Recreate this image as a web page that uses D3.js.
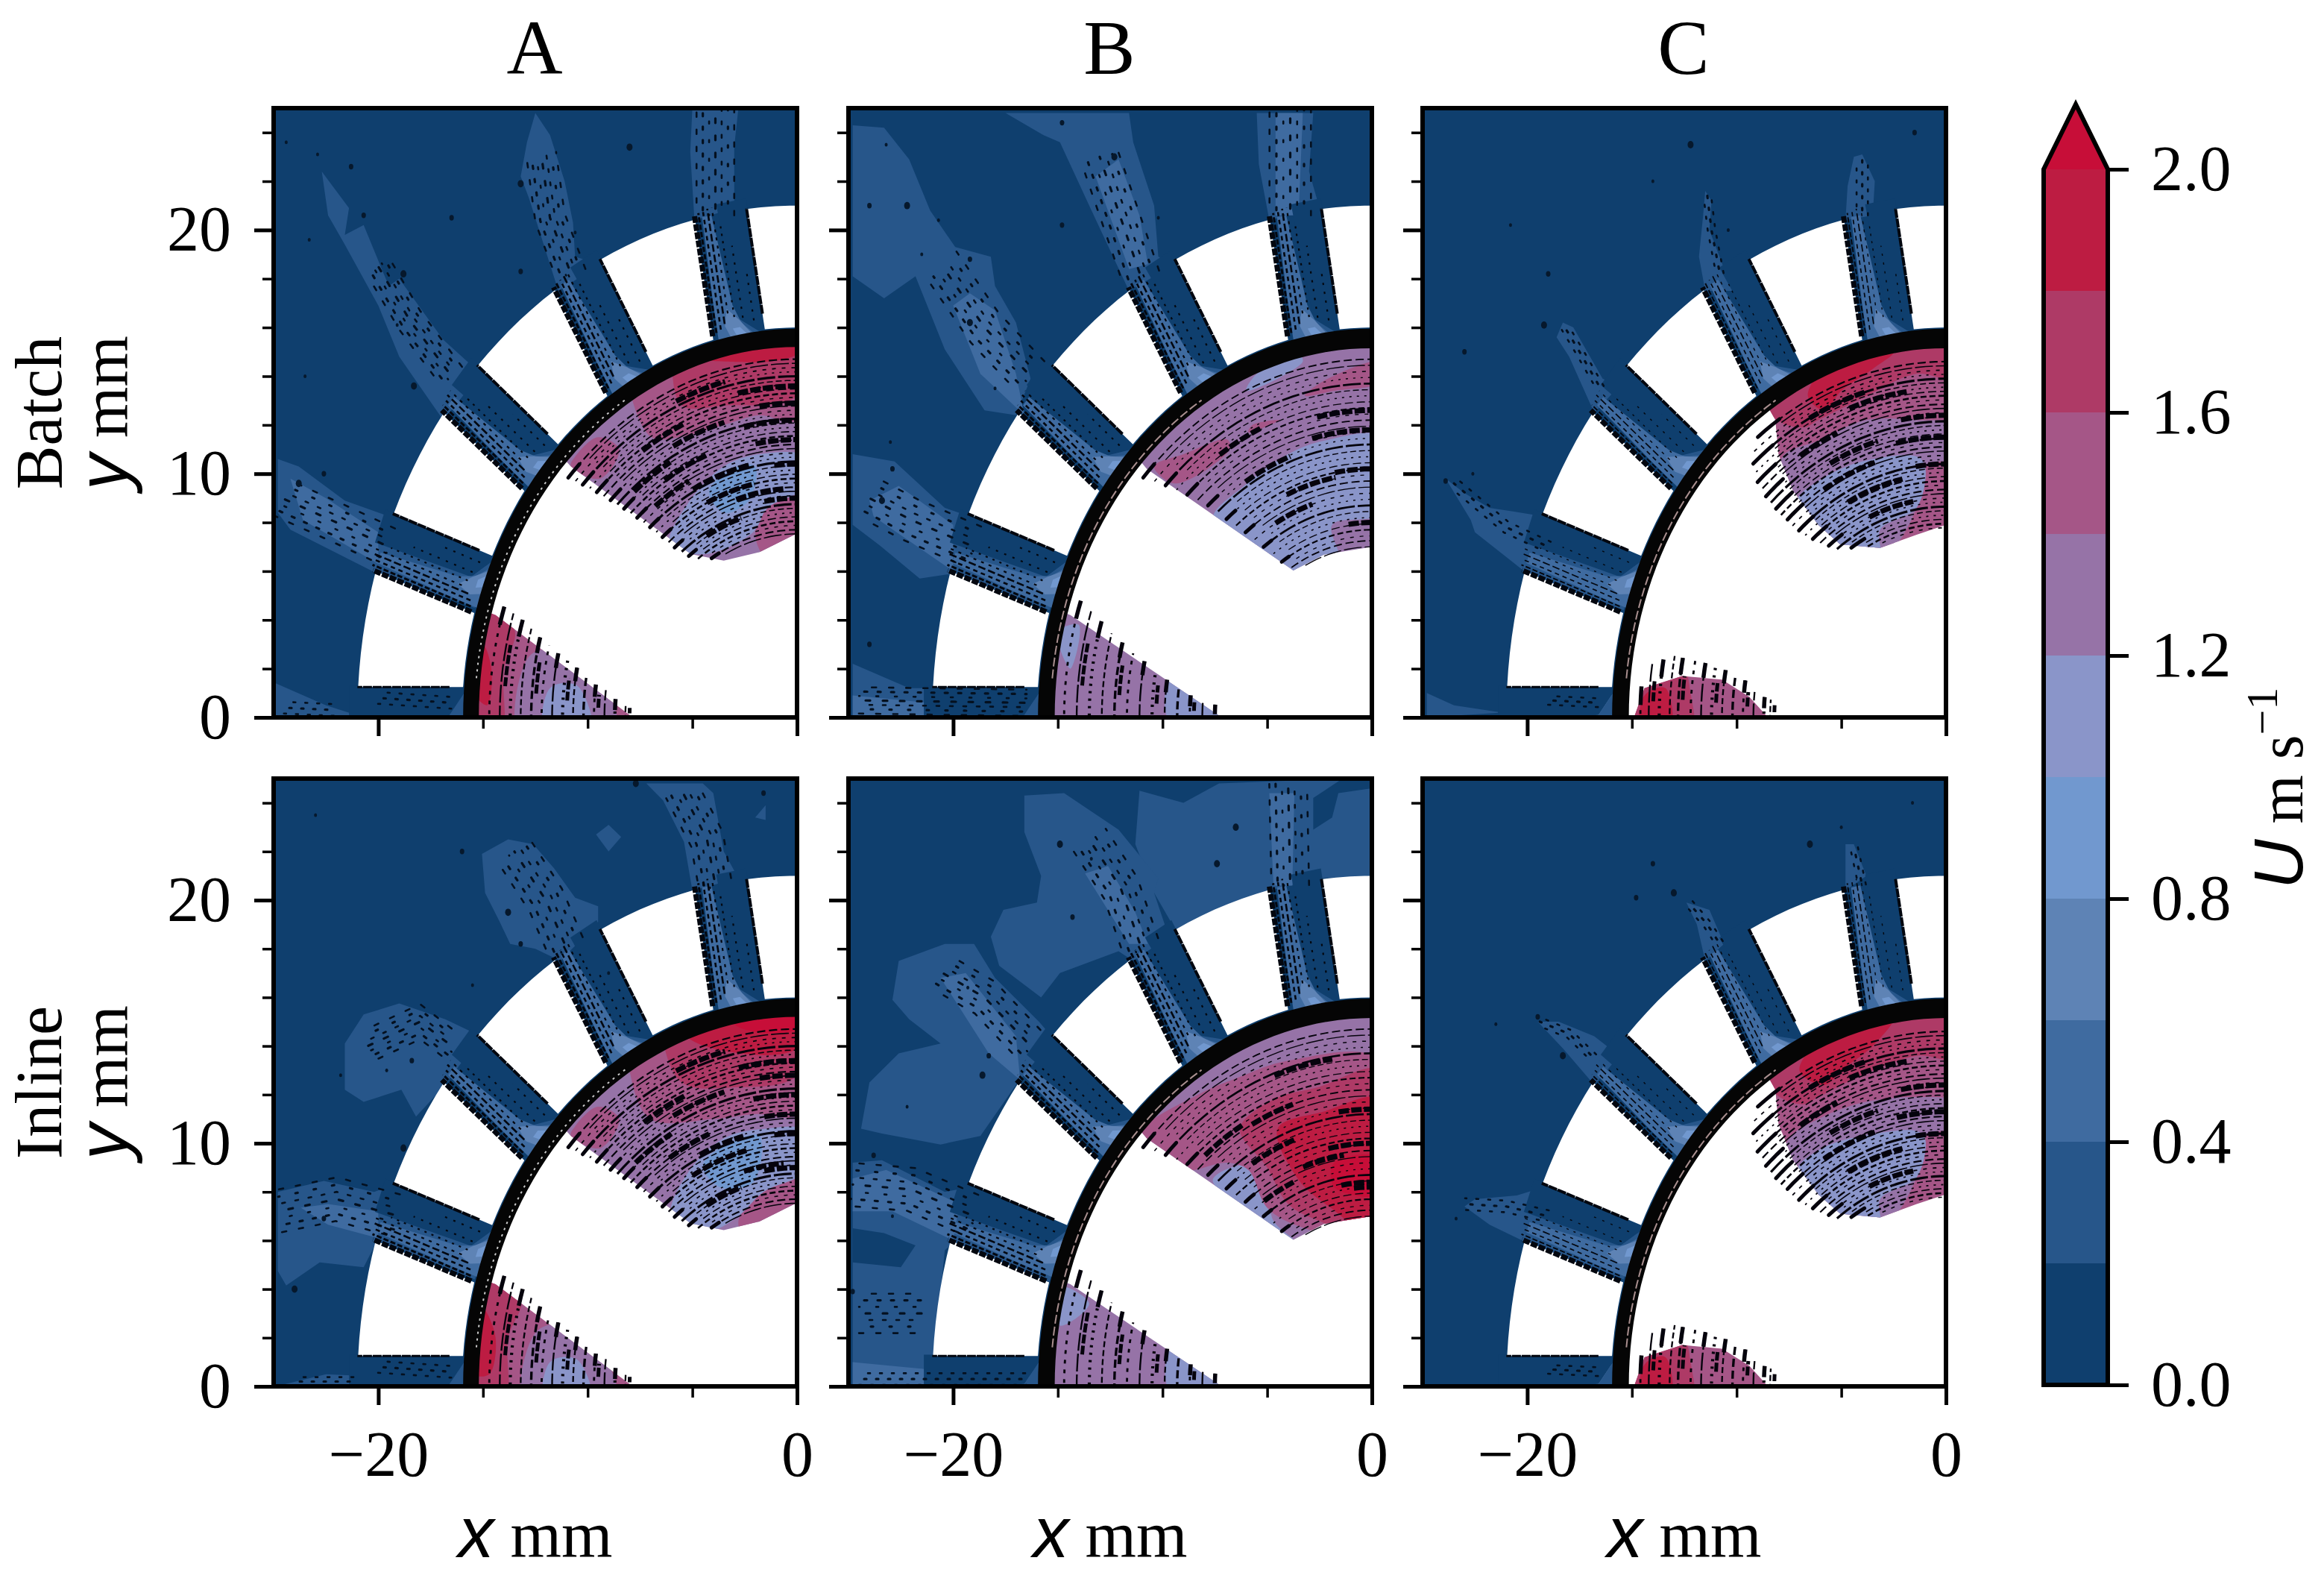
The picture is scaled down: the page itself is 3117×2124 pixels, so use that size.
<!DOCTYPE html>
<html>
<head>
<meta charset="utf-8">
<script src="https://cdnjs.cloudflare.com/ajax/libs/d3/7.8.5/d3.min.js"></script>
<style>
  html, body { margin: 0; background: #fff; }
  text { font-family: "Liberation Serif", serif; fill: #000; }
  .sans { font-family: "Liberation Sans", sans-serif; font-style: italic; }
</style>
</head>
<body>
<div id="target"></div>
<script>
const width = 3117,
  height = 2124;

// contour bands, bottom to top of the colour bar (last one is the "over" colour)
const bandEdges = [0, 0.2, 0.4, 0.6, 0.8, 1.0, 1.2, 1.4, 1.6, 1.8, 2.0];
const bandColors = ["#0f3f6e", "#27568a", "#3f6ba0", "#5e83b5", "#7198cf", "#8a95c9",
  "#9673a7", "#a55687", "#ae3a66", "#bd1c42", "#c70e38"];
const barTicks = [0, 0.4, 0.8, 1.2, 1.6, 2.0];
const barTip = 2.107;

const colNames = ["A", "B", "C"];
const rowNames = ["Batch", "Inline"];
const xMajor = [-20, 0], xMinor = [-15, -10, -5];
const yMajor = [0, 10, 20], yMinor = [2, 4, 6, 8, 12, 14, 16, 18, 22, 24];

// stator geometry in mm / degrees from the -x axis
const slotAngles = [0, 20, 40, 60, 80];
const slotHalf = 1.25, statorIn = 16, statorOut = 21;

// [level, [r, s]...] shading inside a slot, s is the offset across it
const slotPatches = [
  [0, [[16.6, 0.1], [21.4, -0.15], [21.4, 1.3], [15.9, 1.3], [15.9, 1.0]]],
  [1, [[15.9, -0.2], [16.6, 0.1], [15.9, 1.0]]],
  [2, [[15.9, -1.0], [17.4, -1.0], [21, -0.9], [21, -0.45], [17.2, -0.1], [16.4, 0.2], [15.9, 0.7]]],
  [3, [[15.9, -0.4], [16.4, -0.6], [17.1, -0.4], [16.5, 0.15], [15.9, 0.6]]],
  [4, [[15.9, -0.1], [16.25, -0.25], [16.25, 0.1], [15.9, 0.4]]]
];
// [s, r0, r1, width, dash]
const slotStreaks = [
  [-1.25, 16.1, 21.1, 7, "9 2"],
  [-1.05, 16.2, 21.2, 3, "7 3"],
  [-0.82, 16.3, 21.2, 2.6, "6 5"],
  [-0.6, 16.5, 21.3, 2.6, "10 4"],
  [-0.38, 16.9, 21.3, 2.2, "4 7"],
  [-0.1, 16.7, 20.6, 2.2, "3 7"],
  [0.3, 16.6, 19.6, 2.2, "3 9"],
  [0.8, 16.4, 18.4, 2.2, "3 9"],
  [1.25, 16.6, 21, 4, "12 1"]
];

// far field contours [level, points], traced per panel
const contoursA1 = [
  [1, [[-22.7, 22.4], [-22.4, 20.6], [-21.6, 19.4], [-20, 16.9], [-19, 14.8], [-16.9, 12.2], [-15.1, 14.1], [-16.9, 15.5], [-19, 18], [-19.5, 17.7], [-20.7, 20.2], [-21.6, 19.8], [-21.4, 20.9]]],
  [1, [[-12.5, 24.8], [-11.8, 23.9], [-11.1, 22], [-10.7, 20.3], [-10.6, 18.9], [-9.4, 18.6], [-11.4, 17.5], [-12.8, 21.3], [-13.2, 22.2], [-12.9, 23.6]]],
  [1, [[-5, 25], [-2.8, 25], [-3, 23.4], [-3, 20.9], [-4.9, 20.4], [-5.1, 23.2]]],
  [1, [[-24.8, 10.6], [-23.8, 10.3], [-21.6, 8.9], [-19, 8.1], [-14.7, 6.7], [-15.4, 4.5], [-20.05, 5.9], [-24.2, 7.7], [-24.8, 8.4]]],
  [2, [[-24.2, 9.8], [-22.5, 9], [-20, 7.6], [-20, 6.3], [-23.6, 8.1]]],
  [1, [[-24.9, 1.4], [-22.5, 0.5], [-20.7, 0], [-24.9, 0]]]
];
const contoursB1 = [
  [1, [[-24.8, 24.3], [-23.3, 24.2], [-22.1, 22.9], [-21.1, 20.8], [-19.9, 19.3], [-18.2, 18.9], [-18, 17.7], [-17, 16.2], [-16.3, 13.9], [-17, 12.4], [-18.5, 12.6], [-20.4, 15.1], [-21.8, 18.1], [-23.3, 17.2], [-24.8, 18.1]]],
  [2, [[-20, 16.9], [-19.2, 17.4], [-18, 16.7], [-17, 14.1], [-16.6, 12.4], [-18.7, 14.1]]],
  [1, [[-17.5, 24.8], [-11.6, 24.8], [-11.4, 23.6], [-10.4, 21], [-10.2, 18.9], [-9.4, 18.6], [-11.6, 17.5], [-13.5, 21], [-14.9, 23.6], [-15.7, 23.9]]],
  [2, [[-13.2, 22.2], [-12.1, 22.9], [-11.1, 20.6], [-10.7, 18.6], [-11.6, 18.4]]],
  [1, [[-5.5, 24.8], [-2.8, 24.8], [-3, 22.4], [-2.5, 20.9], [-4.9, 20.4], [-5.4, 22.7]]],
  [2, [[-4.6, 24.8], [-3.3, 24.8], [-3.5, 20.6], [-4.6, 20.6]]],
  [1, [[-24.8, 10.8], [-22.8, 10.5], [-20.4, 8.6], [-19.2, 8.25], [-14.5, 6.7], [-15.4, 4.4], [-20, 5.9], [-21.6, 5.7], [-23.5, 7.05], [-24.8, 7.9]]],
  [2, [[-24, 8.9], [-22.6, 9.5], [-20, 7.9], [-20, 6], [-23.8, 8.25]]],
  [1, [[-24.8, 2.2], [-22.1, 1.2], [-16.3, 1.2], [-15.9, 0], [-24.8, 0]]],
  [2, [[-24.8, 0.9], [-20, 0.5], [-20, 0], [-24.8, 0]]]
];
const contoursC1 = [
  [1, [[-23.9, 9.8], [-23, 9.2], [-21.8, 8.6], [-19.2, 8.25], [-14.6, 6.7], [-15.4, 4.4], [-20, 5.9], [-22.5, 7.6], [-22.7, 8.1]]],
  [1, [[-18.3, 16.2], [-17.8, 16], [-16.4, 13.9], [-15.6, 13.6], [-16.8, 12.5], [-18, 14.8], [-18.6, 15.6]]],
  [1, [[-11.5, 21.6], [-11.2, 21.2], [-11.3, 20], [-10.2, 17.5], [-11.5, 17.5], [-11.8, 18.9], [-11.6, 20.6]]],
  [1, [[-4.4, 23], [-4, 23.1], [-3.4, 22], [-3.5, 20.6], [-4.8, 20.4], [-4.7, 21.8]]],
  [1, [[-24.8, 1], [-23.5, 0.5], [-21.2, 0.2], [-24.8, 0]]],
  [3, [[-16.6, 0.9], [-16, 1], [-15.7, 0], [-16.8, 0]]]
];
const contoursA2 = [
  [1, [[-15.05, 21.9], [-13.8, 22.5], [-12.6, 22.3], [-11.6, 21.3], [-10.6, 20.1], [-9.5, 19.75], [-9.5, 19.1], [-11.3, 17.5], [-12.5, 18], [-13.7, 18.2], [-14.2, 19.1], [-14.9, 20.3]]],
  [1, [[-9.6, 22.7], [-9, 23.1], [-8.4, 22.6], [-9, 22]]],
  [1, [[-2, 23.4], [-1.5, 23.9], [-1.5, 23.3]]],
  [1, [[-7.2, 24.8], [-4.5, 24.8], [-4, 24.4], [-3.5, 22], [-2.8, 20.9], [-5, 20.4], [-5.4, 22.4], [-6.4, 24.1]]],
  [1, [[-20.7, 15.3], [-19, 15.75], [-16.8, 15.1], [-15.1, 14.4], [-16.9, 12.3], [-18.2, 11.1], [-18.9, 12.2], [-20.7, 11.7], [-21.6, 12.2], [-21.6, 14.1]]],
  [1, [[-24.8, 8], [-22.6, 8.45], [-20.2, 8], [-19.2, 8.3], [-14.5, 6.65], [-15.4, 4.4], [-20.05, 6], [-20.7, 4.9], [-22.8, 5.1], [-24.4, 4.15], [-24.8, 4.75]]],
  [2, [[-23.7, 7.35], [-22.4, 7.5], [-20, 7.2], [-20, 6.1], [-22.4, 6.65]]],
  [1, [[-24.9, 0], [-22.5, 0.5], [-21.3, 0.45], [-20.4, 0]]]
];
const contoursB2 = [
  [1, [[-11.1, 24.5], [-9, 24], [-7.3, 24.8], [-1.4, 25], [-2.8, 24.2], [-2.8, 22.9], [-1.9, 23.4], [-1.6, 24.4], [0, 24.6], [0, 21], [-2.4, 20.9], [-4.9, 20.4], [-9.4, 18.8], [-10.4, 20.3], [-11.3, 22.3]]],
  [1, [[-16.6, 24.3], [-14.7, 24.4], [-12.1, 22.9], [-10.2, 20.9], [-10.4, 20.3], [-9.7, 18.5], [-11.4, 17.5], [-12.1, 17.9], [-14.9, 17], [-15.8, 16], [-17.8, 17.3], [-18.2, 18.5], [-17.6, 19.6], [-16, 19.9], [-15.8, 21], [-16.6, 22.8]]],
  [1, [[-22.6, 17.5], [-20.4, 18.2], [-19, 18.2], [-18, 16.8], [-15.9, 15], [-15.2, 14.3], [-17, 12.4], [-18.7, 10.3], [-20.6, 9.95], [-23.4, 10.4], [-24.4, 10.6], [-24, 12.5], [-22.6, 13.7], [-20.6, 14.1], [-22.1, 15.1], [-22.9, 15.9]]],
  [2, [[-20.6, 16.8], [-19.4, 17], [-17, 14.4], [-16.8, 12.6], [-18.3, 13.7]]],
  [2, [[-13.7, 21.1], [-12.6, 21.4], [-11.3, 19.5], [-10.7, 18.2], [-11.6, 18.2]]],
  [1, [[-24.8, 9.2], [-23.4, 9.3], [-20.4, 8], [-19.2, 8.2], [-14.5, 6.65], [-15.4, 4.3], [-20, 5.9], [-20.4, 5.6], [-20.9, 1.3], [-15.9, 1.2], [-15.9, 0], [-24.8, 0]]],
  [0, [[-24.8, 6.5], [-23.3, 6.3], [-21.8, 5.8], [-22.5, 4.9], [-24.8, 5.1]]],
  [2, [[-24.8, 8.55], [-23.2, 8.9], [-19.7, 7.5], [-20, 6], [-22.9, 7.2], [-24.8, 7.2]]],
  [2, [[-4.9, 24.4], [-3.7, 24.4], [-3.8, 20.6], [-4.7, 20.6]]],
  [2, [[-24.8, 1], [-20, 0.6], [-16, 0.4], [-16, 0], [-24.8, 0]]]
];
const contoursC2 = [
  [1, [[-23, 7.4], [-22.5, 7.7], [-20.5, 7.85], [-19.2, 8.2], [-14.6, 6.7], [-15.4, 4.4], [-20, 5.9], [-21.8, 6.65]]],
  [1, [[-19.5, 15], [-18.5, 15], [-16.8, 14.4], [-15.6, 13.6], [-16.8, 12.4], [-18.3, 13.9]]],
  [1, [[-12.4, 19.9], [-11.3, 19.6], [-10.6, 18.2], [-11.5, 17.5], [-11.9, 19]]],
  [1, [[-4.8, 22.3], [-4.4, 22.3], [-3.8, 21], [-4.8, 20.4]]],
  [3, [[-16.6, 0.9], [-16, 1], [-15.7, 0], [-16.8, 0]]]
];

// jet centre lines outside the stator and their half width
const jetsA1 = [[0.9, [[-19.5, 7], [-22, 8], [-24.6, 9]]], [0.7, [[-16.5, 14], [-18.5, 16.3], [-20, 18.5]]], [0.8, [[-10.8, 18.2], [-11.8, 20.5], [-12.2, 23]]], [1, [[-3.9, 20.6], [-3.9, 22.8], [-3.9, 25]]], [0.4, [[-24.5, 0.4], [-22, 0.3]]], [0.4, [[-20, 0.8], [-16.5, 0.6]]]];
const jetsB1 = [[1, [[-19, 7], [-22, 8.1], [-24, 9]]], [1, [[-16.3, 14], [-18.5, 16], [-20.5, 18.5]]], [1, [[-11, 18], [-12, 20.5], [-13, 23]]], [1.1, [[-3.9, 20.6], [-3.9, 25]]], [0.6, [[-24.5, 0.7], [-16.5, 0.6]]]];
const jetsC1 = [[0.4, [[-19, 7], [-21, 7.8], [-23.5, 9.6]]], [0.3, [[-16.5, 13.5], [-17.5, 15], [-18.2, 16]]], [0.3, [[-10.8, 18.2], [-11.2, 20], [-11.4, 21.4]]], [0.45, [[-4, 20.6], [-4, 22.9]]], [0.3, [[-19, 0.7], [-16.5, 0.6]]]];
const jetsA2 = [[1, [[-19, 7], [-22, 7.7], [-24.8, 7.2]]], [0.8, [[-16.5, 14], [-18, 15], [-20.5, 14]]], [1, [[-11, 18], [-12, 20], [-13.5, 22]]], [0.9, [[-3.9, 20.6], [-4.3, 22.5], [-5.5, 24.5]]], [0.3, [[-24, 0.2], [-21, 0.2]]], [0.4, [[-20, 0.8], [-16.5, 0.6]]]];
const jetsB2 = [[1, [[-19, 7], [-22, 8.1], [-24.8, 8.3]]], [0.9, [[-16.3, 14], [-18.5, 16], [-20.5, 17]]], [1, [[-11, 18], [-12, 20.5], [-13.5, 22.5]]], [1, [[-3.9, 20.6], [-4, 24.8]]], [0.4, [[-24.5, 0.3], [-16.5, 0.3]]], [0.9, [[-24.5, 3], [-21.5, 3]]]];
const jetsC2 = [[0.4, [[-19, 7], [-21, 7.4], [-23, 7.5]]], [0.3, [[-16.8, 13.5], [-18, 14.5], [-19.4, 15]]], [0.3, [[-10.8, 18.2], [-11.4, 19], [-12.3, 19.9]]], [0.3, [[-4, 20.6], [-4.4, 22.2]]], [0.3, [[-19, 0.7], [-16.5, 0.6]]]];

// isolated specks in the far field
const specksA1 = [[-22.9, 23.1], [-20.7, 20.6], [-18.8, 18.2], [-19.1, 16.1], [-22.6, 10], [-23.8, 9.6], [-23.3, 19.6], [-21.3, 22.6], [-13.2, 21.9], [-10.6, 19.9], [-13.2, 18.3], [-18.3, 13.6], [-24.4, 23.6], [-16.5, 20.5], [-8, 23.4], [-23.5, 14], [-20, 3.5]];
const specksB1 = [[-23.2, 23.5], [-24, 21], [-22.2, 21], [-20.7, 20.4], [-19.2, 18.8], [-19.2, 16.2], [-18, 13.5], [-22.9, 10.2], [-23.4, 8.9], [-23, 11.3], [-14.8, 24.4], [-12.3, 23], [-10.2, 20.5], [-14.8, 20.2], [-8.5, 18.2], [-21.5, 19], [-24, 3]];
const specksC1 = [[-20.8, 20.2], [-19, 18.2], [-19.2, 16.1], [-22.6, 10], [-23.9, 9.7], [-12.2, 23.5], [-10.4, 20], [-1.5, 24], [-9, 18.4], [-14, 22], [-23, 15]];
const specksA2 = [[-23, 23.5], [-18.4, 13.4], [-18.8, 9.8], [-19.6, 13], [-22.6, 6.9], [-24, 4], [-21.8, 12.8], [-13.2, 18.2], [-13.8, 19.5], [-9, 17], [-1.6, 24.4], [-7.7, 24.8], [-15.5, 16.5], [-16, 22]];
const specksB2 = [[-19.3, 16.4], [-18.3, 13.6], [-18.6, 12.8], [-22.9, 7], [-24.8, 3.9], [-14.9, 22.3], [-13.4, 21.7], [-14.3, 19.3], [-7.4, 21.5], [-22.2, 11.5], [-23.8, 9.5], [-6.5, 23]];
const specksC2 = [[-21.5, 14.9], [-19.5, 15.2], [-18.3, 13.6], [-23.4, 6.9], [-14.8, 20.1], [-13, 20.3], [-1.6, 24], [-14, 21.5], [-6.5, 22.3], [-5, 23]];

// rotor passage outlines: blade side points, then the angle where it meets the ring
const upperEdgeA = [[-10.8, 10.3], [-5.07, 6.7], [-3.5, 6.43], [-1.8, 6.78], [0, 7.55]];
const upperEdgeB = [[-10.75, 10.2], [-3.75, 6.03], [-2.3, 6.68], [0, 7]];
const upperEdgeC = [[-8.15, 12.2], [-8, 10.8], [-7.3, 9.3], [-6.1, 7.9], [-5.05, 7.1], [-3.15, 6.95], [-1.4, 7.5], [0, 7.9]];
const upperAngles = { A: 43.6, B: 43.6, C: 56.3 };
const lowerEdgeA = [[-7.84, 0], [-14.4, 4.2]];
const lowerEdgeB = [[-7.17, 0], [-14.4, 4.2]];
const lowerEdgeC = [[-8.5, 0], [-9.4, 0.85], [-10.7, 1.55], [-12.6, 1.7], [-14.4, 1.2], [-14.9, 0]];
const lowerAngles = { A: 16.3, B: 16.3, C: 0 };

// rotor contours, base level first
const rotorA1 = [
  [6, [[-16, 0], [0, 0], [0, 17], [-16, 17]]],
  [7, [[-8, 13.5], [-6.95, 11.5], [-5.6, 11.5], [-3.5, 12], [-1.8, 12.4], [0, 12.2], [0.5, 16], [-8, 16]]],
  [8, [[-6, 14.5], [-5.5, 12.8], [-3.5, 12.8], [0, 13.2], [0.5, 16], [-6, 16]]],
  [9, [[-4.5, 14.8], [-3.4, 14.6], [0, 14.9], [0.5, 16], [-4.5, 16]]],
  [7, [[-10.8, 10.3], [-9.4, 9.8], [-8.5, 11], [-9.5, 11.5], [-10.6, 10.7]]],
  [7, [[0.5, 9.6], [-1.4, 8.6], [-2, 7.5], [-1, 6], [0.5, 6]]],
  [5, [[-6.1, 7.05], [-5.2, 8.8], [-3.5, 10.3], [-1.8, 10.8], [0.5, 10.7], [0.5, 9.5], [-1.4, 8.6], [-2.1, 7.6], [-4.4, 6.7]]],
  [4, [[-4.2, 9.3], [-2.8, 10.3], [-2, 10.3], [-2.3, 8.9], [-3.5, 8.4]]]
];
const lowerA1 = [
  [7, [[-16, -1], [-6, -1], [-6, 6], [-16, 6]]],
  [6, [[-13.2, -1], [-12.8, 2.5], [-11.5, 2.8], [-9.8, 2.2], [-8.6, -1]]],
  [5, [[-12, -1], [-11.8, 1.2], [-10.5, 1.3], [-9.8, -1]]],
  [8, [[-16, -1], [-16, 5], [-13.5, 3.6], [-14, 2], [-14.2, -1]]],
  [9, [[-15.4, 1], [-15, 3], [-14.6, 2], [-14.8, 0.5]]]
];
const rotorA2 = [
  [6, [[-16, 0], [0, 0], [0, 17], [-16, 17]]],
  [7, [[-8, 13], [-7, 11], [-4, 11], [-2, 11.2], [0, 11.2], [0.5, 16], [-8, 16]]],
  [8, [[-6.5, 14.6], [-5.5, 12.5], [-3, 12.3], [0, 12.8], [0.5, 16], [-6.5, 16]]],
  [9, [[-5.5, 14.6], [-4, 13.9], [0, 13.9], [0.5, 16], [-5.5, 16]]],
  [10, [[-3, 14.9], [0, 14.7], [0.5, 16], [-3, 16]]],
  [7, [[-10.8, 10.3], [-9.4, 9.8], [-8.5, 11], [-9.5, 11.5], [-10.6, 10.7]]],
  [7, [[0.5, 8.9], [-1.6, 8], [-2.8, 6.8], [-2, 5.5], [0.5, 5.5]]],
  [5, [[-6, 7], [-5.2, 8.8], [-3.5, 10.2], [-1.5, 10.6], [0.5, 10.5], [0.5, 8.9], [-1.6, 8], [-2.8, 7], [-4.2, 6.4]]],
  [4, [[-4.5, 9.1], [-3, 10.1], [-1.8, 10.3], [-2.1, 8.4], [-3.7, 8.2]]]
];
const lowerA2 = [
  [7, [[-16, -1], [-6, -1], [-6, 6], [-16, 6]]],
  [6, [[-13, -1], [-12.5, 2.2], [-11.2, 2.6], [-9.8, 2.1], [-8.6, -1]]],
  [5, [[-12, -1], [-11.8, 1], [-10.5, 1.1], [-9.8, -1]]],
  [8, [[-16, -1], [-16, 5], [-13.2, 3.6], [-13.8, 2], [-14, -1]]],
  [9, [[-15.4, 0.5], [-15, 3.2], [-14.4, 2], [-14.7, 0.5]]]
];
const rotorB1 = [
  [6, [[-16, 0], [0, 0], [0, 17], [-16, 17]]],
  [5, [[-7.6, 8.1], [-6.1, 9.5], [-4, 10.8], [-2.3, 11.35], [0.5, 11.5], [0.5, 8.4], [-1.9, 7.9], [-1.6, 6.4], [-3.75, 5.7]]],
  [5, [[-5.5, 14.1], [-3.5, 14.9], [-3.3, 14.6], [-6, 13.4]]],
  [7, [[-10.4, 10.3], [-9.4, 9.6], [-6.8, 11], [-6.9, 11.4], [-9, 10.8]]],
  [7, [[-5.9, 11.7], [-4.4, 12.2], [-5.7, 12]]],
  [7, [[-3.2, 13.2], [-2.1, 13.9], [0.5, 14.6], [0.5, 13.8], [-1.8, 13.4]]]
];
const lowerB1 = [
  [6, [[-16, -1], [-6, -1], [-6, 6], [-16, 6]]],
  [5, [[-9.5, 2], [-7.1, -0.1], [-9.7, -0.1]]],
  [5, [[-15, 3.5], [-14, 3.8], [-14.4, 2]]]
];
const rotorB2 = [
  [6, [[-16, 0], [0, 0], [0, 17], [-16, 17]]],
  [5, [[-7.6, 8.5], [-5.9, 9.1], [-5, 8], [-4.7, 6.8], [-3.75, 6.05], [-6.1, 7.3]]],
  [7, [[-8.3, 12], [-6.4, 12.7], [-4, 13.4], [0.5, 13.4], [0.5, 6], [-3.2, 6.5], [-5, 7.35], [-5.9, 8.9], [-6.9, 9.2], [-9.2, 8.9], [-11, 10.4]]],
  [8, [[-6.3, 10.6], [-4.7, 11.8], [-2.6, 12.3], [0.5, 13], [0.5, 6], [-2.5, 6.8], [-4, 7.5], [-5, 9]]],
  [9, [[-4.5, 10.6], [-2.3, 11.3], [0.5, 11.8], [0.5, 6], [-1.9, 7.3], [-3.5, 8.5]]],
  [10, [[-1.8, 9.2], [0.5, 9.4], [0.5, 7.9], [-1.8, 8.2]]]
];
const lowerB2 = [
  [6, [[-16, -1], [-6, -1], [-6, 6], [-16, 6]]],
  [5, [[-9.5, 1.8], [-7.1, -0.1], [-9.7, -0.1]]],
  [5, [[-14.9, 4.1], [-13.5, 3.4], [-14.9, 2.5]]]
];
const rotorC1 = [
  [7, [[-16, 0], [0.5, 0], [0.5, 17], [-16, 17]]],
  [6, [[-7.8, 10.7], [-6.1, 11.35], [-3.85, 12.2], [-1.4, 12.2], [0.5, 12], [0.5, 10.7], [-1, 10.3], [-1.4, 8.6], [-3, 6.6], [-5.05, 6.9], [-6.5, 7.6], [-7.8, 9]]],
  [5, [[-7.1, 8.9], [-5.9, 9.8], [-4, 10.5], [-1.4, 10.7], [-1, 10.3], [-1.4, 8.6], [-3.15, 7.7], [-3.15, 6.5], [-5.05, 6.8], [-6.1, 7.6]]],
  [8, [[-8.3, 12.4], [-6.8, 11.9], [-6.1, 12.2], [-4, 13.1], [-1.4, 14.1], [0.5, 13.9], [0.5, 16], [-8.3, 16]]],
  [9, [[-6.6, 13.2], [-5.8, 12.6], [-5, 13.4], [-3.5, 14.3], [-2.5, 15], [-5, 15]]]
];
const lowerC1 = [
  [7, [[-16, -1], [-7, -1], [-7, 3], [-16, 3]]],
  [8, [[-15.5, -1], [-15.5, 2], [-12.6, 2], [-12.2, 1], [-12.2, -1]]],
  [9, [[-14.5, -1], [-14.4, 0.9], [-13.4, 1.2], [-13.2, -1]]]
];
const rotorC2 = [
  [7, [[-16, 0], [0.5, 0], [0.5, 17], [-16, 17]]],
  [6, [[-7.5, 10.2], [-6.1, 11], [-3.85, 11.7], [-1.4, 11.9], [0.5, 11.7], [0.5, 10.7], [-1, 10.3], [-1.4, 8.6], [-3, 6.6], [-5.05, 6.9], [-6.5, 7.6], [-7.8, 9]]],
  [5, [[-7.1, 8.9], [-5.9, 9.8], [-4, 10.3], [-1.4, 10.5], [-1, 10.2], [-1.4, 8.6], [-3.15, 7.7], [-3.15, 6.5], [-5.05, 6.8], [-6.1, 7.6]]],
  [8, [[-8.3, 12.2], [-6.8, 11.6], [-6.1, 11.9], [-4, 12.8], [-1.4, 13.6], [0.5, 13.5], [0.5, 16], [-8.3, 16]]],
  [9, [[-7, 13], [-5.8, 12.4], [-5, 13], [-3.5, 14], [-2.5, 15.2], [-5, 15]]]
];
const lowerC2 = lowerC1;

// rotor streak rows: [radius, angle where it starts]
const upperRowsA = [[14.7, 42], [14.35, 42.5], [14, 43], [13.65, 43.5], [13.3, 44], [12.95, 44.5], [12.6, 45], [12.25, 45.5], [11.9, 46], [11.55, 46.5], [11.2, 47], [10.85, 47.5], [10.5, 48], [10.15, 48.5], [9.8, 49], [9.45, 49.5], [9.1, 50], [8.75, 51], [8.4, 52], [8.05, 54], [7.7, 58]];
const upperRowsB = [[14.7, 42], [14.2, 43], [13.7, 44], [13.2, 45], [12.7, 46], [12.2, 47], [11.7, 48], [11.2, 49], [10.7, 49.5], [10.2, 50.5], [9.7, 51.5], [9.2, 52.5], [8.7, 53.5], [8.2, 55], [7.7, 56], [7.25, 58]];
const upperRowsC = [[14.6, 52], [14.25, 50], [13.9, 48.5], [13.55, 48], [13.2, 47], [12.85, 47], [12.5, 46.5], [12.15, 46.5], [11.8, 46.5], [11.45, 46.5], [11.1, 47], [10.75, 47], [10.4, 47.5], [10.05, 48], [9.7, 49], [9.35, 50], [9, 51.5], [8.65, 53], [8.3, 57], [7.95, 62]];
// [radius, angle where it ends]
const lowerRowsA = [[14.7, 18], [14.2, 17.5], [13.7, 17], [13.2, 16], [12.7, 15], [12.2, 14], [11.7, 13], [11.2, 12], [10.7, 11], [10.2, 9.5], [9.7, 8], [9.2, 7], [8.7, 5], [8.2, 4]];
const lowerRowsB = [[14.7, 19], [14.1, 18], [13.5, 17], [12.9, 15.5], [12.3, 14.5], [11.7, 13], [11.1, 12], [10.5, 10.5], [9.9, 9], [9.3, 7.5], [8.7, 6], [8.1, 5], [7.5, 4]];
const lowerRowsC = [[14.6, 5], [14.2, 9], [13.7, 10], [13.2, 11], [12.8, 11], [12.2, 11], [11.7, 11], [11.2, 10.5], [10.7, 10.5], [10.2, 10], [9.7, 9], [9.2, 6.5], [8.7, 5.5], [8.4, 5]];
// heavy clumps of arrows [radius, a0, a1]
const clumpsA1 = [[14.2, 66, 76], [13.2, 56, 66], [12.6, 62, 74], [12.1, 50, 60], [11.6, 57, 68], [11, 52, 62], [10.6, 62, 78], [9.8, 64, 78], [9.4, 72, 86], [8.6, 60, 72], [13.6, 78, 90], [12.9, 82, 90], [12.2, 78, 90], [11.4, 80, 90], [9, 80, 90], [10.4, 84, 90]];
const clumpsB1 = [[13, 56, 66], [11.4, 58, 70], [10, 66, 80], [11.8, 76, 90], [10.2, 80, 90], [8, 82, 90], [12.6, 78, 90], [9.2, 60, 72]];
const clumpsC1 = [[13.9, 62, 74], [12.8, 57, 66], [11.8, 62, 74], [11, 58, 72], [10, 62, 78], [9, 66, 80], [11.5, 78, 90], [13.5, 70, 82], [12.4, 80, 90], [10.4, 82, 90]];
const clumpsA2 = [[14.2, 66, 76], [13.1, 56, 66], [12.6, 62, 74], [12, 50, 60], [11.2, 57, 68], [10.6, 64, 76], [10, 60, 76], [9.2, 74, 86], [8.6, 60, 72], [13.4, 78, 90], [12.8, 82, 90], [12, 80, 90], [11.2, 82, 90], [9, 80, 90], [10.4, 84, 90]];
const clumpsB2 = [[13.6, 70, 82], [12.4, 50, 60], [12.2, 62, 72], [10.8, 58, 70], [9.6, 70, 82], [10, 78, 90], [8.4, 80, 90], [8.2, 84, 90], [11.4, 82, 90], [9.2, 56, 66]];
const clumpsC2 = [[13.9, 62, 74], [12.8, 57, 66], [11.8, 62, 74], [11, 58, 72], [10, 62, 78], [9, 66, 80], [11.3, 78, 90], [13.5, 70, 82], [12.4, 80, 90], [10.4, 82, 90]];

const panels = [
  { col: 0, row: 0, contours: contoursA1, jets: jetsA1, specks: specksA1, rotor: rotorA1, lower: lowerA1, clumps: clumpsA1, edge: upperEdgeA, low: lowerEdgeA, rows: upperRowsA, lowRows: lowerRowsA },
  { col: 1, row: 0, contours: contoursB1, jets: jetsB1, specks: specksB1, rotor: rotorB1, lower: lowerB1, clumps: clumpsB1, edge: upperEdgeB, low: lowerEdgeB, rows: upperRowsB, lowRows: lowerRowsB },
  { col: 2, row: 0, contours: contoursC1, jets: jetsC1, specks: specksC1, rotor: rotorC1, lower: lowerC1, clumps: clumpsC1, edge: upperEdgeC, low: lowerEdgeC, rows: upperRowsC, lowRows: lowerRowsC },
  { col: 0, row: 1, contours: contoursA2, jets: jetsA2, specks: specksA2, rotor: rotorA2, lower: lowerA2, clumps: clumpsA2, edge: upperEdgeA, low: lowerEdgeA, rows: upperRowsA, lowRows: lowerRowsA },
  { col: 1, row: 1, contours: contoursB2, jets: jetsB2, specks: specksB2, rotor: rotorB2, lower: lowerB2, clumps: clumpsB2, edge: upperEdgeB, low: lowerEdgeB, rows: upperRowsB, lowRows: lowerRowsB },
  { col: 2, row: 1, contours: contoursC2, jets: jetsC2, specks: specksC2, rotor: rotorC2, lower: lowerC2, clumps: clumpsC2, edge: upperEdgeC, low: lowerEdgeC, rows: upperRowsC, lowRows: lowerRowsC }
];

// layout
const colLeft = [367, 1138, 1908], colRight = [1069, 1840, 2610];
const rowTop = [145, 1044], rowBottom = [962, 1859];
const barLeft = 2741, barRight = 2827, barTop = 227, barBottom = 1857;

const svg = d3.select("#target").append("svg")
  .attr("width", width)
  .attr("height", height)
  .attr("viewBox", `0 0 ${width} ${height}`)
  .style("display", "block");

const rad = (a) => a * Math.PI / 180;
const polar = (r, a) => [-r * Math.cos(rad(a)), r * Math.sin(rad(a))];
const slotPoint = (angle, r, s) => {
  const p = polar(r, angle);
  const n = [Math.sin(rad(angle)), Math.cos(rad(angle))];
  return [p[0] + s * n[0], p[1] + s * n[1]];
};
const arcPoints = (r, a0, a1) => {
  const n = Math.max(2, Math.ceil(Math.abs(a1 - a0) / 2));
  return d3.range(n + 1).map((i) => polar(r, a0 + (a1 - a0) * i / n));
};
const statorBlock = (a0, a1) => {
  // block between two slots, its sides are parallel to the slots
  const lo = Math.asin(slotHalf / statorOut) * 180 / Math.PI;
  const loIn = Math.asin(slotHalf / statorIn) * 180 / Math.PI;
  return [...arcPoints(statorOut, a0 + lo, a1 - lo), ...arcPoints(statorIn, a1 - loIn, a0 + loIn)];
};

const dashes = ["11 5", "5 8", "24 4", "3 7", "8 4"];
const weights = [2.2, 1.8, 3.2, 1.8, 2.6];
const jetShift = [0, 9, 4, 14, 2, 11, 6];
const ink = "#05030c";

panels.forEach((p, idx) => {
  const x = d3.scaleLinear().domain([-25, 0]).range([colLeft[p.col], colRight[p.col]]);
  const y = d3.scaleLinear().domain([0, 25]).range([rowBottom[p.row], rowTop[p.row]]);
  const line = d3.line().x((d) => x(d[0])).y((d) => y(d[1]));
  const closed = d3.line().x((d) => x(d[0])).y((d) => y(d[1])).curve(d3.curveLinearClosed);
  const soft = d3.line().x((d) => x(d[0])).y((d) => y(d[1])).curve(d3.curveCatmullRomClosed.alpha(0.5));

  svg.append("clipPath").attr("id", `frame${idx}`).append("rect")
    .attr("x", x(-25)).attr("y", y(25)).attr("width", x(0) - x(-25)).attr("height", y(0) - y(25));

  const thin = p.col === 2 ? 0.65 : 1;
  const g = svg.append("g").attr("clip-path", `url(#frame${idx})`);

  g.append("rect")
    .attr("x", x(-25)).attr("y", y(25)).attr("width", x(0) - x(-25)).attr("height", y(0) - y(25))
    .attr("fill", bandColors[0]);

  g.selectAll(".contour").data(p.contours).enter().append("path")
    .attr("d", (d) => closed(d[1]))
    .attr("fill", (d) => bandColors[d[0]]);

  // shading inside the slots
  slotAngles.forEach((angle) => {
    slotPatches.forEach((patch) => {
      if (angle === 0 && patch[0] > 1) return;
      g.append("path")
        .attr("d", closed(patch[1].map((q) => slotPoint(angle, q[0], q[1]))))
        .attr("fill", bandColors[patch[0]]);
    });
  });

  // the jets leaving the slots, rows staggered so the arrows do not line up
  p.jets.forEach((jet) => {
    const hw = jet[0];
    const first = jet[1][0], last = jet[1][jet[1].length - 1];
    const len = Math.hypot(last[0] - first[0], last[1] - first[1]);
    const nx = -(last[1] - first[1]) / len, ny = (last[0] - first[0]) / len;
    const rowsAcross = hw < 0.5 ? [-0.6, 0, 0.6] : [-0.9, -0.6, -0.3, 0, 0.3, 0.6, 0.9];
    rowsAcross.forEach((t, i) => {
      const pts = jet[1].map((q) => [q[0] + t * hw * nx, q[1] + t * hw * ny]);
      g.append("path").attr("d", line(pts))
        .attr("fill", "none").attr("stroke", "#04101f")
        .attr("stroke-width", i % 2 ? 3.2 : 2.6)
        .attr("stroke-linecap", "round")
        .attr("stroke-dasharray", hw < 0.5 ? "3 13" : (i % 3 === 0 ? "6 17" : (i % 3 === 1 ? "3 22" : "4 14")))
        .attr("stroke-dashoffset", jetShift[i]);
    });
  });

  g.selectAll(".speck").data(p.specks).enter().append("ellipse")
    .attr("cx", (d) => x(d[0])).attr("cy", (d) => y(d[1]))
    .attr("rx", (d, i) => 2 + (i % 3)).attr("ry", (d, i) => 2.5 + (i % 3) * 1.2)
    .attr("fill", "#06182c");

  // stator teeth
  d3.pairs(slotAngles.concat([100])).forEach((pair) => {
    g.append("path").attr("d", closed(statorBlock(pair[0], pair[1]))).attr("fill", "#fff");
  });

  // streaks along the slot walls
  slotAngles.forEach((angle) => {
    slotStreaks.forEach((st) => {
      const s = st[0];
      if (angle === 0 && s < 1.2) return;
      g.append("path")
        .attr("d", line([slotPoint(angle, st[1], s), slotPoint(angle, st[2], s)]))
        .attr("fill", "none").attr("stroke", "#03070f")
        .attr("stroke-width", angle === 0 ? 3 : st[3] * (Math.abs(s) < 1.2 ? thin : 1))
        .attr("stroke-dasharray", st[4]);
    });
  });

  // white disc under the rotor
  g.append("path").attr("d", closed(arcPoints(15.4, -2, 92).concat([[1, 0]]))).attr("fill", "#fff");

  // rotor passages
  const colName = colNames[p.col];
  const upperShape = p.edge.concat(arcPoints(15.5, 90, upperAngles[colName]));
  const lowerShape = lowerAngles[colName] > 0
    ? p.low.concat(arcPoints(15.5, lowerAngles[colName], 0))
    : p.low;
  svg.append("clipPath").attr("id", `upper${idx}`).append("path").attr("d", closed(upperShape));
  svg.append("clipPath").attr("id", `lower${idx}`).append("path").attr("d", closed(lowerShape));

  g.append("g").attr("clip-path", `url(#upper${idx})`)
    .selectAll("path").data(p.rotor).enter().append("path")
    .attr("d", (d, i) => i === 0 ? closed(d[1]) : soft(d[1]))
    .attr("fill", (d) => bandColors[d[0]]);
  g.append("g").attr("clip-path", `url(#lower${idx})`)
    .selectAll("path").data(p.lower).enter().append("path")
    .attr("d", (d, i) => i === 0 ? closed(d[1]) : soft(d[1]))
    .attr("fill", (d) => bandColors[d[0]]);

  // rotor arrows: dashed rows following the rotation, heavy stubs at the blade edge
  const bladeDim = colName === "B" ? 0.85 : 1;
  const rowStep = colName === "B" ? 0.25 : 0.17;
  const stubLen = colName === "C" ? 5 : 3;
  p.rows.forEach((d, i) => {
    g.append("path").attr("d", line(arcPoints(d[0], d[1], 90)))
      .attr("fill", "none").attr("stroke", ink)
      .attr("stroke-width", weights[i % 5] * bladeDim)
      .attr("stroke-dasharray", dashes[i % 5]);
    g.append("path").attr("d", line(arcPoints(d[0] - rowStep, d[1] + 5, 90)))
      .attr("fill", "none").attr("stroke", ink)
      .attr("stroke-width", 1.6 * bladeDim)
      .attr("stroke-dasharray", dashes[(i + 2) % 5]);
    if (i % 2 === 0) {
      g.append("path").attr("d", line(arcPoints(d[0], d[1], d[1] + stubLen)))
        .attr("fill", "none").attr("stroke", ink)
        .attr("stroke-width", 5)
        .attr("stroke-linecap", "round");
    }
  });
  p.lowRows.forEach((d, i) => {
    g.append("path").attr("d", line(arcPoints(d[0], -1, d[1])))
      .attr("fill", "none").attr("stroke", ink)
      .attr("stroke-width", weights[i % 5] * 1.3)
      .attr("stroke-dasharray", dashes[(i + 1) % 5]);
    if (i % 2 === 0) {
      g.append("path").attr("d", line(arcPoints(d[0], d[1], d[1] - 3)))
        .attr("fill", "none").attr("stroke", ink)
        .attr("stroke-width", 5.5);
    }
    if (i % 3 === 1) {
      g.append("path").attr("d", line(arcPoints(d[0] - 0.2, d[1] * 0.3, d[1] * 0.7)))
        .attr("fill", "none").attr("stroke", ink)
        .attr("stroke-width", 5).attr("stroke-dasharray", "12 3");
    }
  });
  g.selectAll(".clump").data(p.clumps).enter().append("path")
    .attr("d", (d) => line(arcPoints(d[0], d[1], d[2])))
    .attr("fill", "none").attr("stroke", ink)
    .attr("stroke-width", 7).attr("stroke-dasharray", "14 3");

  // the rotor ring
  const ringIn = p.col === 0 ? 15.2 : 15.15;
  g.append("path")
    .attr("d", closed(arcPoints(15.95, -2, 92).concat(arcPoints(ringIn, 92, -2))))
    .attr("fill", "#050505");
  g.append("path").attr("d", line(arcPoints(ringIn + 0.2, 6, 58)))
    .attr("fill", "none")
    .attr("stroke", p.col === 0 ? "#c9c9c9" : "#a98f8f")
    .attr("stroke-width", 2)
    .attr("stroke-dasharray", p.col === 0 ? "3 6" : "12 4");

  // axes
  const majorX = d3.axisBottom(x).tickValues(xMajor).tickSize(25).tickPadding(34)
    .tickFormat((d) => p.row === 1 ? (d < 0 ? "\u2212" + Math.abs(d) : d) : "");
  const minorX = d3.axisBottom(x).tickValues(xMinor).tickSize(15).tickFormat("");
  const majorY = d3.axisLeft(y).tickValues(yMajor).tickSize(26).tickPadding(31)
    .tickFormat((d) => p.col === 0 ? d : "");
  const minorY = d3.axisLeft(y).tickValues(yMinor).tickSize(15).tickFormat("");

  [[majorX, 0, 5], [minorX, 0, 3.5], [majorY, 1, 5], [minorY, 1, 3.5]].forEach((a) => {
    const ax = svg.append("g")
      .attr("transform", a[1] ? `translate(${x(-25)},0)` : `translate(0,${y(0)})`)
      .call(a[0]);
    ax.select(".domain").remove();
    ax.selectAll("line").attr("stroke", "#000").attr("stroke-width", a[2]);
    ax.selectAll("text").attr("font-size", 86).attr("fill", "#000")
      .style("font-family", '"Liberation Serif", serif');
  });

  svg.append("rect")
    .attr("x", x(-25)).attr("y", y(25)).attr("width", x(0) - x(-25)).attr("height", y(0) - y(25))
    .attr("fill", "none").attr("stroke", "#000").attr("stroke-width", 6);

  // x label under the bottom row
  if (p.row === 1) {
    const t = svg.append("text").attr("x", (x(-25) + x(0)) / 2).attr("y", 2088)
      .attr("text-anchor", "middle").attr("font-size", 88);
    t.append("tspan").attr("class", "sans").attr("font-size", 96).text("x");
    t.append("tspan").text(" mm");
  }
  if (p.row === 0) {
    svg.append("text").attr("x", (x(-25) + x(0)) / 2 - 1).attr("y", 99)
      .attr("text-anchor", "middle").attr("font-size", 104).text(colName);
  }
  if (p.col === 0) {
    const cy = (y(0) + y(25)) / 2 + 0;
    svg.append("text")
      .attr("transform", `translate(82,${cy}) rotate(-90)`)
      .attr("text-anchor", "middle").attr("font-size", 88).text(rowNames[p.row]);
    const t = svg.append("text")
      .attr("transform", `translate(171,${cy}) rotate(-90)`)
      .attr("text-anchor", "middle").attr("font-size", 88);
    t.append("tspan").attr("class", "sans").attr("font-size", 96).text("y");
    t.append("tspan").text(" mm");
  }
});

// colour bar
const yBar = d3.scaleLinear().domain([0, 2]).range([barBottom, barTop]);
svg.selectAll(".band").data(d3.pairs(bandEdges)).enter().append("rect")
  .attr("x", barLeft).attr("width", barRight - barLeft)
  .attr("y", (d) => yBar(d[1])).attr("height", (d) => yBar(d[0]) - yBar(d[1]))
  .attr("fill", (d, i) => bandColors[i]);
const barOutline = [[barLeft, 0], [barLeft, 2], [(barLeft + barRight) / 2, barTip], [barRight, 2], [barRight, 0]];
const barPath = d3.line().x((d) => d[0]).y((d) => yBar(d[1])).curve(d3.curveLinearClosed);
svg.append("path").attr("d", barPath(barOutline.slice(1, 4))).attr("fill", bandColors[10]);
svg.append("path").attr("d", barPath(barOutline))
  .attr("fill", "none").attr("stroke", "#000").attr("stroke-width", 6);
const barAxis = d3.axisRight(yBar).tickValues(barTicks).tickSize(28).tickPadding(30)
  .tickFormat(d3.format(".1f"));
const barG = svg.append("g").attr("transform", `translate(${barRight},0)`).call(barAxis);
barG.select(".domain").remove();
barG.selectAll("line").attr("stroke", "#000").attr("stroke-width", 5);
barG.selectAll("text").attr("font-size", 86).attr("fill", "#000")
  .style("font-family", '"Liberation Serif", serif');

const barLabel = svg.append("text")
  .attr("transform", "translate(3088,1192) rotate(-90)")
  .attr("font-size", 84);
barLabel.append("tspan").attr("class", "sans").attr("font-size", 92).text("U");
barLabel.append("tspan").text(" m s");
barLabel.append("tspan").attr("font-size", 60).attr("dy", -34).text("\u22121");
</script>
</body>
</html>
